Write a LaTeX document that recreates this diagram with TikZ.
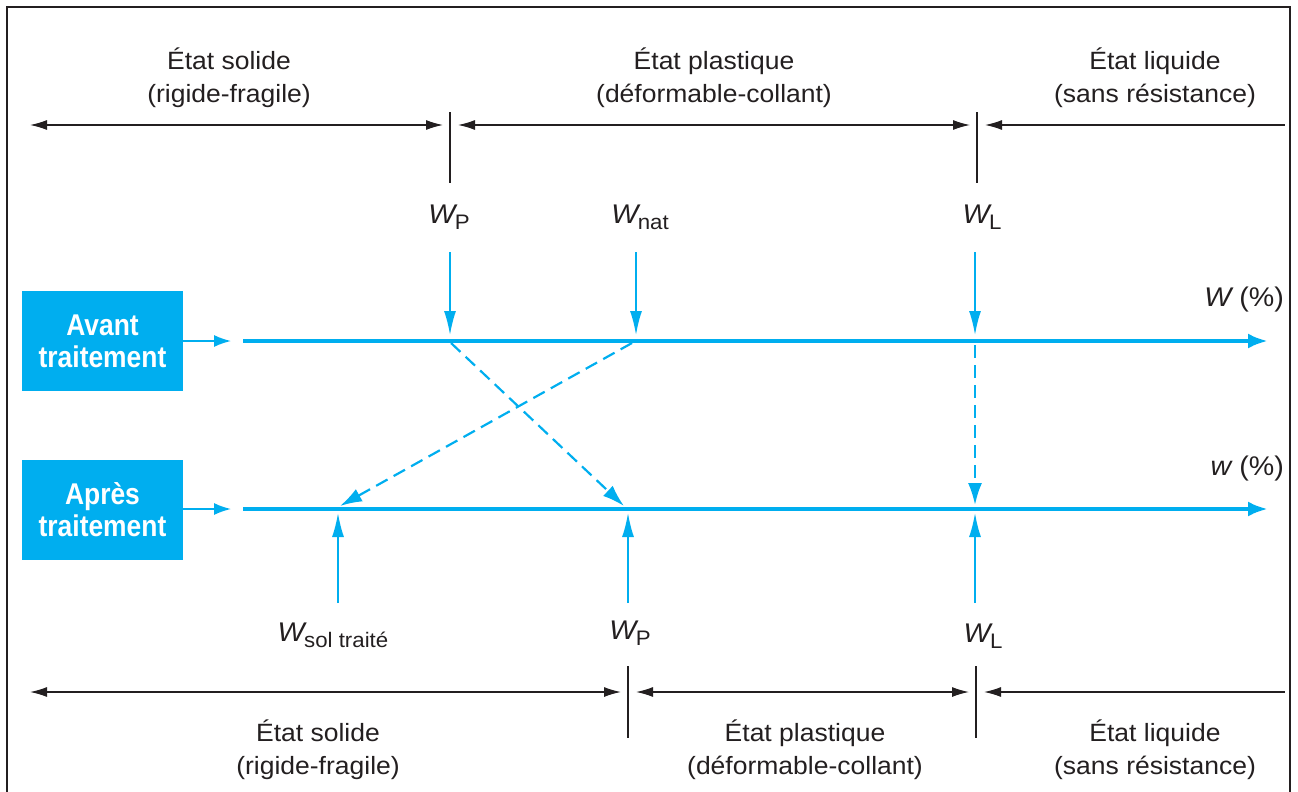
\documentclass[tikz,border=0pt]{standalone}
\usepackage{fontspec}
\setmainfont{Liberation Sans}[FakeStretch=1.06]
\newfontfamily\boxfont{Liberation Sans}[FakeStretch=0.88]
\usetikzlibrary{arrows.meta}
\definecolor{cblue}{HTML}{00AEEF}
\definecolor{ink}{HTML}{231F20}
\newcommand\Wlab[1]{{\itshape W}\kern-0.5pt\raisebox{-6pt}{\fontsize{21}{21}\selectfont #1}}
\tikzset{
  dimline/.style={draw=ink, line width=1.3pt},
  dimtip/.tip={Latex[length=17pt,width=10pt]},
  ticks/.style={draw=ink, line width=1.3pt},
  axisline/.style={draw=cblue, line width=4pt, -{Latex[length=20pt,width=15pt]}},
  marker/.style={draw=cblue, line width=1.6pt, -{Latex[length=24pt,width=12pt]}},
  boxarrow/.style={draw=cblue, line width=1.6pt, -{Latex[length=17pt,width=12pt]}},
  dasharrow/.style={draw=cblue, line width=2.2pt, dash pattern=on 13pt off 7pt, -{Latex[length=22pt,width=14pt]}},
  statelabel/.style={text=ink, align=center, font=\fontsize{25}{33}\selectfont, inner sep=0pt},
  wlabel/.style={text=ink, font=\fontsize{27}{27}\selectfont, inner sep=0pt},
  boxnode/.style={fill=cblue, text=white, minimum width=161pt, minimum height=100pt, align=center, inner sep=0pt,
    font=\boxfont\bfseries\fontsize{30}{32}\selectfont},
}
\begin{document}
\begin{tikzpicture}[x=1pt,y=-1pt]
\useasboundingbox (0,0) rectangle (1298,792);
% frame
\draw[ink, line width=1.4pt] (7,792) -- (7,7) -- (1290,7) -- (1290,792);

% top state labels
\node[statelabel] (s1) at (229,78) {État solide\\(rigide-fragile)};
\node[statelabel] (s2) at (714,78) {État plastique\\(déformable-collant)};
\node[statelabel] (s3) at (1155,78) {État liquide\\(sans résistance)};

% top dimension line
\coordinate (t0) at (30,125);
\coordinate (t1) at (443,125);
\coordinate (t2) at (458,125);
\coordinate (t3) at (970,125);
\coordinate (t4) at (985,125);
\coordinate (t5) at (1285,125);
\draw[dimline, dimtip-dimtip] (t0) -- (t1);
\draw[dimline, dimtip-dimtip] (t2) -- (t3);
\draw[dimline, dimtip-] (t4) -- (t5);
\coordinate (tk1a) at (450,112); \coordinate (tk1b) at (450,183);
\coordinate (tk2a) at (977,112); \coordinate (tk2b) at (977,183);
\draw[ticks] (tk1a) -- (tk1b);
\draw[ticks] (tk2a) -- (tk2b);

% top W labels
\node[wlabel] (wp1) at (449,217) {\Wlab{P}};
\node[wlabel] (wnat) at (640,217) {\Wlab{nat}};
\node[wlabel] (wl1) at (982,217) {\Wlab{L}};

% boxes
\node[boxnode] (box1) at (102.5,341) {Avant\\traitement};
\node[boxnode] (box2) at (102.5,509.5) {Après\\traitement};

% axes
\coordinate (a1s) at (243,341); \coordinate (a1e) at (1268,341);
\coordinate (a2s) at (243,509); \coordinate (a2e) at (1268,509);
\coordinate (b1) at (231,341); \coordinate (b2) at (231,509);
\draw[boxarrow] (box1.east |- b1) -- (b1);
\draw[boxarrow] (box2.east |- b2) -- (b2);
\draw[axisline] (a1s) -- (a1e);
\draw[axisline] (a2s) -- (a2e);
\node[wlabel, anchor=base east] (wpct1) at (1284,306) {{\itshape W} (\%)};
\node[wlabel, anchor=base east] (wpct2) at (1284,475) {{\itshape w} (\%)};

% markers from top
\coordinate (m1a) at (450,252); \coordinate (m1b) at (450,335);
\coordinate (m2a) at (636,252); \coordinate (m2b) at (636,335);
\coordinate (m3a) at (975,252); \coordinate (m3b) at (975,335);
\draw[marker] (m1a) -- (m1b);
\draw[marker] (m2a) -- (m2b);
\draw[marker] (m3a) -- (m3b);

% dashed transfers
\coordinate (d1a) at (451,343); \coordinate (d1b) at (624,506);
\coordinate (d2a) at (632,343); \coordinate (d2b) at (340,506);
\coordinate (d3a) at (975,345); \coordinate (d3b) at (975,505);
\draw[dasharrow] (d1a) -- (d1b);
\draw[dasharrow] (d2a) -- (d2b);
\draw[dasharrow] (d3a) -- (d3b);

% markers from bottom
\coordinate (n1a) at (338,603); \coordinate (n1b) at (338,513);
\coordinate (n2a) at (628,603); \coordinate (n2b) at (628,513);
\coordinate (n3a) at (975,603); \coordinate (n3b) at (975,513);
\draw[marker] (n1a) -- (n1b);
\draw[marker] (n2a) -- (n2b);
\draw[marker] (n3a) -- (n3b);

% bottom W labels
\node[wlabel] (wsol) at (333,635) {\Wlab{sol traité}};
\node[wlabel] (wp2) at (630,633) {\Wlab{P}};
\node[wlabel] (wl2) at (983,636) {\Wlab{L}};

% bottom dimension line
\coordinate (u0) at (30,692);
\coordinate (u1) at (621,692);
\coordinate (u2) at (636,692);
\coordinate (u3) at (969,692);
\coordinate (u4) at (984,692);
\coordinate (u5) at (1285,692);
\draw[dimline, dimtip-dimtip] (u0) -- (u1);
\draw[dimline, dimtip-dimtip] (u2) -- (u3);
\draw[dimline, dimtip-] (u4) -- (u5);
\coordinate (uk1a) at (628,666); \coordinate (uk1b) at (628,738);
\coordinate (uk2a) at (976,666); \coordinate (uk2b) at (976,738);
\draw[ticks] (uk1a) -- (uk1b);
\draw[ticks] (uk2a) -- (uk2b);

% bottom state labels
\node[statelabel] (v1) at (318,750) {État solide\\(rigide-fragile)};
\node[statelabel] (v2) at (805,750) {État plastique\\(déformable-collant)};
\node[statelabel] (v3) at (1155,750) {État liquide\\(sans résistance)};
\end{tikzpicture}
\end{document}
